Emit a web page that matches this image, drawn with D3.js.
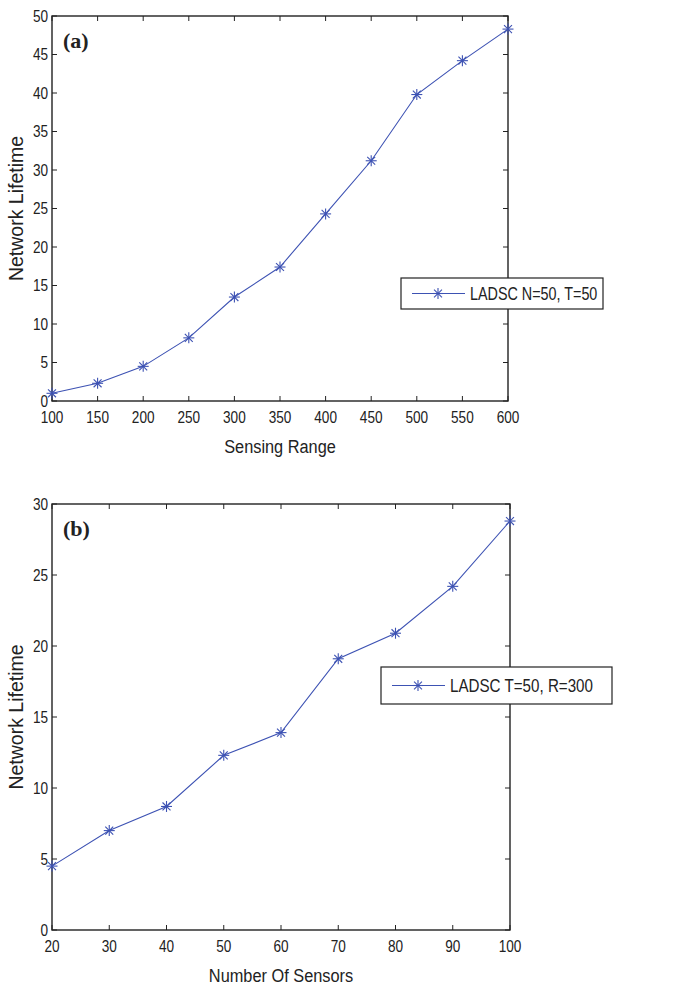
<!DOCTYPE html>
<html>
<head>
<meta charset="utf-8">
<script src="https://cdn.jsdelivr.net/npm/d3@7"></script>
<style>
  body { margin: 0; background: #fff; }
  svg text { font-family: "Liberation Sans", Arial, Helvetica, sans-serif; fill: #222; }
</style>
</head>
<body>
<svg id="chart" width="685" height="991"></svg>
<script>
// panel (a): lifetime vs sensing range
const rangeX = [100, 150, 200, 250, 300, 350, 400, 450, 500, 550, 600];
const rangeLifetime = [1.0, 2.3, 4.5, 8.2, 13.5, 17.4, 24.3, 31.2, 39.8, 44.2, 48.3];
const rangeXTicks = [100, 150, 200, 250, 300, 350, 400, 450, 500, 550, 600];
const rangeYTicks = [0, 5, 10, 15, 20, 25, 30, 35, 40, 45, 50];

// panel (b): lifetime vs number of sensors
const sensorsX = [20, 30, 40, 50, 60, 70, 80, 90, 100];
const sensorsLifetime = [4.5, 7.0, 8.7, 12.3, 13.9, 19.1, 20.9, 24.2, 28.8];
const sensorsXTicks = [20, 30, 40, 50, 60, 70, 80, 90, 100];
const sensorsYTicks = [0, 5, 10, 15, 20, 25, 30];

const BLUE = "#3d52b3";
const NARROW = 0.8; // the figure uses a condensed helvetica
const svg = d3.select("#chart");

// text squeezed horizontally around its anchor point
function txt(g, x, y, str, size, anchor, sx, dy) {
  return g.append("text")
    .attr("transform", `translate(${x},${y}) scale(${sx},1)`)
    .attr("text-anchor", anchor || "start")
    .attr("dy", dy || null)
    .attr("font-size", size)
    .text(str);
}

function starMarker(g, cx, cy, r) {
  const s = g.append("g").attr("transform", `translate(${cx},${cy})`)
    .attr("stroke", BLUE).attr("stroke-width", 1.1);
  const d = r * 0.72;
  s.append("line").attr("x1", -r).attr("x2", r).attr("y1", 0).attr("y2", 0);
  s.append("line").attr("x1", 0).attr("x2", 0).attr("y1", -r).attr("y2", r);
  s.append("line").attr("x1", -d).attr("x2", d).attr("y1", -d).attr("y2", d);
  s.append("line").attr("x1", -d).attr("x2", d).attr("y1", d).attr("y2", -d);
}

function panel(opts) {
  const { box, xs, ys, xTicks, yTicks, xLabel, tag, legendText, legendBox } = opts;
  const g = svg.append("g");

  const x = d3.scaleLinear()
    .domain(d3.extent(xTicks))
    .range([box.left, box.right]);
  const y = d3.scaleLinear()
    .domain(d3.extent(yTicks))
    .range([box.bottom, box.top]);

  const tick = 5;
  // ticks inward on all four sides
  xTicks.forEach(t => {
    g.append("line").attr("x1", x(t)).attr("x2", x(t))
      .attr("y1", box.bottom).attr("y2", box.bottom - tick)
      .attr("stroke", "#222").attr("stroke-width", 1);
    g.append("line").attr("x1", x(t)).attr("x2", x(t))
      .attr("y1", box.top).attr("y2", box.top + tick)
      .attr("stroke", "#222").attr("stroke-width", 1);
    txt(g, x(t), box.bottom + 22, t, 17, "middle", NARROW);
  });
  yTicks.forEach(t => {
    g.append("line").attr("x1", box.left).attr("x2", box.left + tick)
      .attr("y1", y(t)).attr("y2", y(t))
      .attr("stroke", "#222").attr("stroke-width", 1);
    g.append("line").attr("x1", box.right).attr("x2", box.right - tick)
      .attr("y1", y(t)).attr("y2", y(t))
      .attr("stroke", "#222").attr("stroke-width", 1);
    txt(g, box.left - 4, y(t), t, 17, "end", NARROW, "0.35em");
  });

  g.append("rect")
    .attr("x", box.left).attr("y", box.top)
    .attr("width", box.right - box.left).attr("height", box.bottom - box.top)
    .attr("fill", "none").attr("stroke", "#222").attr("stroke-width", 1.4);

  const pts = xs.map((v, i) => ({ x: v, y: ys[i] }));
  g.append("path")
    .datum(pts)
    .attr("fill", "none").attr("stroke", BLUE).attr("stroke-width", 1.1)
    .attr("d", d3.line().x(d => x(d.x)).y(d => y(d.y)));
  pts.forEach(d => starMarker(g, x(d.x), y(d.y), 5.5));

  // axis titles
  txt(g, (box.left + box.right) / 2, box.bottom + 52, xLabel, 19, "middle", 0.86);
  g.append("text")
    .attr("transform", `translate(23,${(box.top + box.bottom) / 2}) rotate(-90)`)
    .attr("text-anchor", "middle").attr("font-size", 19.5).text("Network Lifetime");

  // panel tag
  g.append("text")
    .attr("x", box.left + 11).attr("y", box.top + 32)
    .style("font-family", "'Liberation Serif', 'Times New Roman', serif")
    .attr("font-weight", "bold").attr("font-size", 22).text(tag);

  // legend
  const lb = legendBox;
  g.append("rect")
    .attr("x", lb.x).attr("y", lb.y).attr("width", lb.w).attr("height", lb.h)
    .attr("fill", "#fff").attr("stroke", "#222").attr("stroke-width", 1.2);
  const ly = lb.y + lb.h / 2;
  g.append("line")
    .attr("x1", lb.x + 11).attr("x2", lb.x + 64).attr("y1", ly).attr("y2", ly)
    .attr("stroke", BLUE).attr("stroke-width", 1.1);
  starMarker(g, lb.x + 37, ly, 5.5);
  txt(g, lb.x + 69, ly, legendText, lb.font, "start", 0.82, "0.35em");
}

panel({
  box: { left: 52, right: 508, top: 16, bottom: 401 },
  xs: rangeX, ys: rangeLifetime,
  xTicks: rangeXTicks, yTicks: rangeYTicks,
  xLabel: "Sensing Range", tag: "(a)",
  legendText: "LADSC N=50, T=50",
  legendBox: { x: 401, y: 278, w: 202, h: 31, font: 17.5 }
});

panel({
  box: { left: 52, right: 510, top: 504, bottom: 930 },
  xs: sensorsX, ys: sensorsLifetime,
  xTicks: sensorsXTicks, yTicks: sensorsYTicks,
  xLabel: "Number Of Sensors", tag: "(b)",
  legendText: "LADSC T=50, R=300",
  legendBox: { x: 381, y: 667, w: 231, h: 37, font: 18.5 }
});
</script>
</body>
</html>
